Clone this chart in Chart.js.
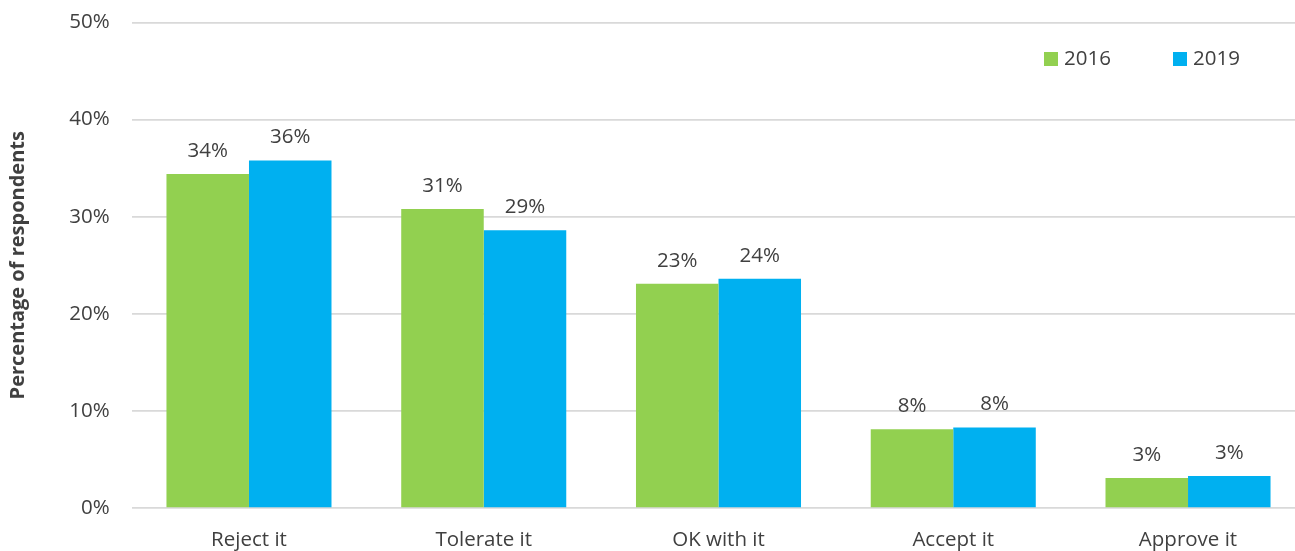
<!DOCTYPE html>
<html>
<head>
<meta charset="utf-8">
<script src="https://cdn.jsdelivr.net/npm/chart.js@4.4.1/dist/chart.umd.min.js"></script>
<style>
    html, body { margin: 0; padding: 0; background: #fff; overflow: hidden; }
    #wrap { width: 1295px; height: 551px; overflow: hidden; position: relative; }
    #myChart { position: absolute; left: 0; top: 0; }
</style>
</head>
<body>
<div id="wrap"><canvas id="myChart" width="1310" height="551"></canvas></div>
<script>
// Categories and series (percent of respondents)
const categories = ['Reject it', 'Tolerate it', 'OK with it', 'Accept it', 'Approve it'];
const seriesNames = ['2016', '2019'];
const values2016 = [34.4, 30.8, 23.1, 8.1, 3.1];
const values2019 = [35.8, 28.6, 23.6, 8.3, 3.3];
const yTicks = [0, 10, 20, 30, 40, 50];

const colors = ['#92D050', '#00B0F0'];
const textColor = '#404040';
const fontFamily = '"Open Sans", "Liberation Sans", sans-serif';
const fontSize = 20.5;

// Value labels above each bar
const barLabels = {
    id: 'barLabels',
    afterDatasetsDraw(chart) {
        const ctx = chart.ctx;
        ctx.save();
        ctx.font = fontSize + 'px ' + fontFamily;
        ctx.fillStyle = textColor;
        ctx.textAlign = 'center';
        ctx.textBaseline = 'alphabetic';
        chart.data.datasets.forEach((ds, i) => {
            chart.getDatasetMeta(i).data.forEach((bar, j) => {
                ctx.fillText(Math.round(ds.data[j]) + '%', bar.x, bar.y - 17);
            });
        });
        ctx.restore();
    }
};

// Legend at top right, inside the plot
const cornerLegend = {
    id: 'cornerLegend',
    afterDraw(chart) {
        const ctx = chart.ctx;
        const xs = [1044, 1173];
        ctx.save();
        ctx.font = fontSize + 'px ' + fontFamily;
        ctx.textBaseline = 'middle';
        ctx.textAlign = 'left';
        seriesNames.forEach((name, i) => {
            ctx.fillStyle = colors[i];
            ctx.fillRect(xs[i], 52, 14, 14);
            ctx.fillStyle = textColor;
            ctx.fillText(name, xs[i] + 20, 59);
        });
        ctx.restore();
    }
};

const ctx = document.getElementById('myChart').getContext('2d');
const myChart = new Chart(ctx, {
    type: 'bar',
    data: {
        labels: categories,
        datasets: [
            {
                label: seriesNames[0],
                data: values2016,
                backgroundColor: colors[0],
                categoryPercentage: 0.703,
                barPercentage: 1.0
            },
            {
                label: seriesNames[1],
                data: values2019,
                backgroundColor: colors[1],
                categoryPercentage: 0.703,
                barPercentage: 1.0
            }
        ]
    },
    options: {
        responsive: false,
        animation: false,
        devicePixelRatio: 1,
        layout: {
            padding: { left: 0, right: 4.6, top: 22.5, bottom: 0 }
        },
        scales: {
            x: {
                grid: { display: false },
                border: { display: false },
                ticks: {
                    color: textColor,
                    font: { family: fontFamily, size: fontSize },
                    padding: 12
                },
                afterFit: function (scale) { scale.height = 43; }
            },
            y: {
                min: 0,
                max: 50,
                afterBuildTicks: function (scale) {
                    scale.ticks = yTicks.map(v => ({ value: v }));
                },
                grid: {
                    color: '#D9D9D9',
                    lineWidth: 1.7,
                    drawTicks: false
                },
                border: { display: false },
                ticks: {
                    color: textColor,
                    font: { family: fontFamily, size: fontSize },
                    padding: 22,
                    callback: function (value) { return value + '%'; }
                },
                title: {
                    display: true,
                    text: 'Percentage of respondents',
                    color: textColor,
                    font: { family: fontFamily, size: 20, weight: 'bold' },
                    padding: { top: 6, bottom: 0 }
                },
                afterFit: function (scale) {
                    scale.width = 131.6;
                    // let the layout padding decide where the plot starts
                    scale.paddingTop = 0;
                    scale.paddingBottom = 0;
                }
            }
        },
        plugins: {
            legend: { display: false },
            tooltip: { enabled: false }
        }
    },
    plugins: [barLabels, cornerLegend]
});
</script>
</body>
</html>
